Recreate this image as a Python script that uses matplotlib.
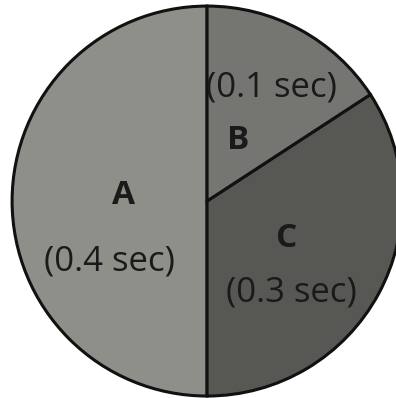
import matplotlib.pyplot as plt

# segments (counter-clockwise from the top)
names = ["A", "C", "B"]
durations = [0.4, 0.3, 0.1]
# angular share each wedge takes in the drawing
wedge_share = [0.5, 0.342, 0.158]
colors = ["#8f8f8a", "#575754", "#757572"]

fig = plt.figure(figsize=(3.96, 3.98), dpi=100)
ax = fig.add_axes([0, 0, 1, 1])

ax.pie(wedge_share, colors=colors, startangle=90, counterclock=True,
       radius=1.0, wedgeprops=dict(edgecolor="#111111", linewidth=2.2))

ax.set_xlim(-1.062, 0.969)
ax.set_ylim(-1.010, 1.031)
ax.set_aspect("equal")
ax.axis("off")

# label positions (data units)
name_pos = {"A": (-0.43, 0.03), "B": (0.16, 0.31), "C": (0.41, -0.19)}
val_pos = {"A": (-0.50, -0.31), "B": (0.33, 0.58), "C": (0.43, -0.47)}

for n, d in zip(names, durations):
    x, y = name_pos[n]
    ax.text(x, y, n, ha="center", va="center", fontsize=24,
            fontweight="bold", family="Open Sans", color="#1a1a1a")
    x, y = val_pos[n]
    ax.text(x, y, f"({d} sec)", ha="center", va="center", fontsize=25,
            family="Open Sans", color="#1a1a1a")

fig.savefig("out.png", dpi=100)
